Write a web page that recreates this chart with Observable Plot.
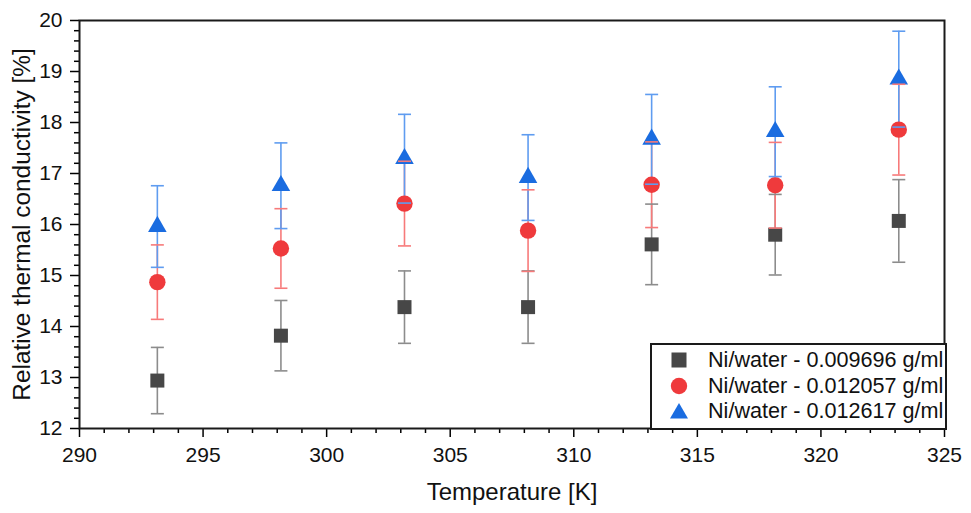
<!DOCTYPE html>
<html>
<head>
<meta charset="utf-8">
<script src="https://cdn.jsdelivr.net/npm/d3@7"></script>
<script src="https://cdn.jsdelivr.net/npm/@observablehq/plot@0.6"></script>
<style>
  html, body { margin: 0; padding: 0; background: #fff; }
  #wrap { position: relative; width: 971px; height: 513px; font-family: "Liberation Sans", Arial, sans-serif; }
  #legend { position: absolute; left: 650px; top: 343px; width: 293px; height: 83px; border: 2px solid #1a1a1a; background: #fff; box-sizing: content-box; }
  .row { position: absolute; left: 0; height: 26px; display: flex; align-items: center; font-size: 21.6px; color: #111; white-space: nowrap; }
  .row svg { margin-left: 18px; margin-right: 20px; }
</style>
</head>
<body>
<div id="wrap"></div>
<script>
// ---- data ----
const temperatures = [293.15, 298.15, 303.15, 308.15, 313.15, 318.15, 323.15];
const seriesNames = ["Ni/water - 0.009696 g/ml", "Ni/water - 0.012057 g/ml", "Ni/water - 0.012617 g/ml"];
const values1 = [12.94, 13.82, 14.38, 14.38, 15.61, 15.80, 16.07];
const errors1 = [0.65, 0.69, 0.71, 0.71, 0.79, 0.79, 0.81];
const values2 = [14.87, 15.53, 16.41, 15.88, 16.78, 16.77, 17.86];
const errors2 = [0.73, 0.78, 0.83, 0.80, 0.84, 0.84, 0.89];
const values3 = [15.96, 16.76, 17.29, 16.92, 17.67, 17.82, 18.85];
const errors3 = [0.80, 0.84, 0.87, 0.84, 0.88, 0.88, 0.94];
const xTicks = [290, 295, 300, 305, 310, 315, 320, 325];
const yTicks = [12, 13, 14, 15, 16, 17, 18, 19, 20];
const xLabel = "Temperature [K]";
const yLabel = "Relative thermal conductivity [%]";

const markerColors = ["#474747", "#ef3a3c", "#1a6ce0"];
const barColors = ["#8c8c8c", "#f77a7a", "#5f9cf0"];
const symbols = ["square", "circle", "triangle"];
const radii = [7.9, 8.2, 6.9];

const rows = [];
[[values1, errors1], [values2, errors2], [values3, errors3]].forEach(([v, e], s) => {
  temperatures.forEach((t, i) => rows.push({s, t, v: v[i], lo: v[i] - e[i], hi: v[i] + e[i]}));
});

const capSymbol = {
  draw(context, size) {
    const r = Math.sqrt(size / Math.PI);
    context.moveTo(-r, 0);
    context.lineTo(r, 0);
  }
};

const xMinor = d3.range(290, 325.001, 1).filter(d => !xTicks.includes(d));
const yMinor = d3.range(12, 20.001, 0.2).map(d => +d.toFixed(1)).filter(d => !yTicks.includes(d));

const marks = [];
// axes
marks.push(Plot.axisX({ticks: xMinor, tickSize: 5, text: null, label: null, strokeWidth: 1.5}));
marks.push(Plot.axisY({ticks: yMinor, tickSize: 5, text: null, label: null, strokeWidth: 1.5}));
marks.push(Plot.axisX({ticks: xTicks, tickSize: 9, tickPadding: 10, tickFormat: d => d, strokeWidth: 1.5,
  fontSize: 21, fill: "#111", label: null}));
marks.push(Plot.axisY({ticks: yTicks, tickSize: 9, tickPadding: 8, tickFormat: d => d, strokeWidth: 1.5,
  fontSize: 21, fill: "#111", label: null}));
marks.push(Plot.text([xLabel], {text: d => d, frameAnchor: "bottom", dy: 64, lineAnchor: "middle", textAnchor: "middle", fontSize: 24, fill: "#111"}));
marks.push(Plot.text([yLabel], {text: d => d, frameAnchor: "left", dx: -57, rotate: -90, lineAnchor: "middle", textAnchor: "middle", fontSize: 24.4, fill: "#111"}));

for (let s = 0; s < 3; s++) {
  const d = rows.filter(r => r.s === s);
  marks.push(Plot.ruleX(d, {x: "t", y1: "lo", y2: "hi", stroke: barColors[s], strokeWidth: 1.6}));
}
for (let s = 0; s < 3; s++) {
  const d = rows.filter(r => r.s === s);
  marks.push(Plot.dot(d, {x: "t", y: "v", symbol: symbols[s], r: radii[s], fill: markerColors[s], stroke: "none"}));
}
for (let s = 0; s < 3; s++) {
  const d = rows.filter(r => r.s === s);
  for (const key of ["lo", "hi"]) {
    marks.push(Plot.dot(d, {x: "t", y: key, symbol: capSymbol, r: 6.5, fill: "none", stroke: barColors[s], strokeWidth: 1.6}));
  }
}
marks.push(Plot.frame({stroke: "#1a1a1a", strokeWidth: 2}));

const chart = Plot.plot({
  width: 971,
  height: 513,
  marginLeft: 79,
  marginRight: 27,
  marginTop: 20,
  marginBottom: 85,
  style: {fontFamily: "'Liberation Sans', Arial, sans-serif", fontSize: "21px", background: "#fff", overflow: "visible"},
  x: {domain: [290, 325]},
  y: {domain: [12, 20]},
  marks
});
const wrap = document.getElementById("wrap");
wrap.appendChild(chart);

// legend (HTML overlay)
const legend = document.createElement("div");
legend.id = "legend";
const shapeSvgs = [
  `<svg width="18" height="18" viewBox="-9 -9 18 18"><rect x="-7.5" y="-7.5" width="15" height="15" fill="${markerColors[0]}"/></svg>`,
  `<svg width="18" height="18" viewBox="-9 -9 18 18"><circle r="8.2" fill="${markerColors[1]}"/></svg>`,
  `<svg width="18" height="18" viewBox="-9 -9 18 18"><path d="M0,-8L9,7.5L-9,7.5Z" fill="${markerColors[2]}"/></svg>`
];
const rowTops = [2, 28, 53];
seriesNames.forEach((name, i) => {
  const row = document.createElement("div");
  row.className = "row";
  row.style.top = rowTops[i] + "px";
  row.innerHTML = shapeSvgs[i] + `<span>${name}</span>`;
  legend.appendChild(row);
});
wrap.appendChild(legend);
</script>
</body>
</html>
